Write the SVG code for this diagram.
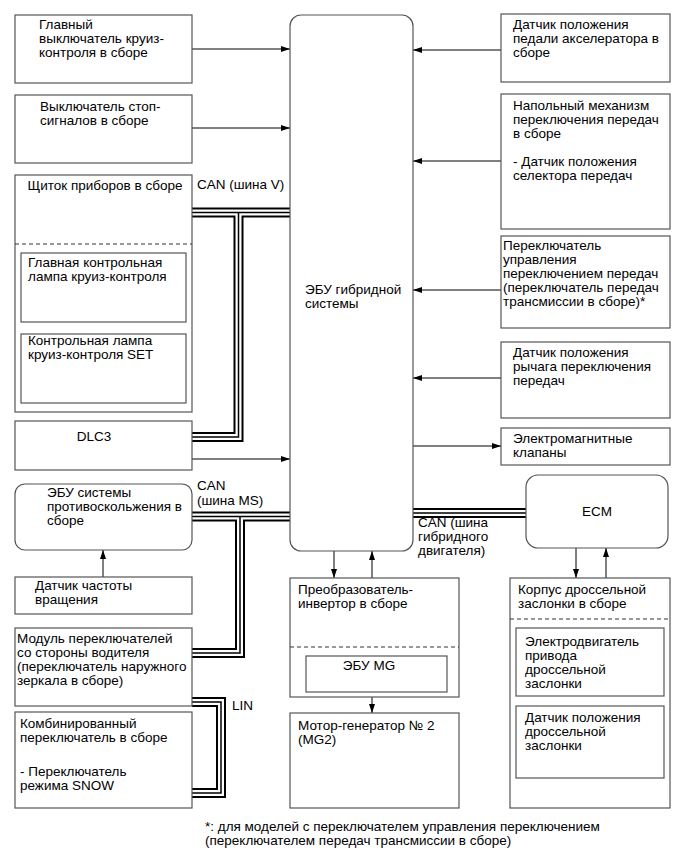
<svg xmlns="http://www.w3.org/2000/svg" width="686" height="856" viewBox="0 0 686 856">
<defs>
<style>
.b{fill:#fff;stroke:#555;stroke-width:1.2}
.d{stroke:#333;stroke-width:1;stroke-dasharray:4 3;fill:none}
.t{font-family:"Liberation Sans",Arial,sans-serif;font-size:13.5px;fill:#000}
.m{text-anchor:middle}
.a{stroke:#000;stroke-width:1;fill:none;marker-end:url(#ah)}
.bus1{stroke:#000;stroke-width:10;fill:none;stroke-linejoin:miter}
.bus2{stroke:#fff;stroke-width:6;fill:none;stroke-linejoin:miter}
.bus3{stroke:#000;stroke-width:1.5;fill:none;stroke-linejoin:miter}
</style>
<marker id="ah" viewBox="0 0 9 6" refX="9" refY="3" markerWidth="9" markerHeight="6" orient="auto" markerUnits="userSpaceOnUse"><path d="M0,0 L9,3 L0,6 z" fill="#000"/></marker>
</defs>
<rect width="686" height="856" fill="#fff"/>
<g id="connectors">
<g id="buses">
<path class="bus1" d="M192,212.5 H290 M238.5,212.5 V437 H192 M192,516.5 H290 M240,516.5 V653 H192 M413,513 H526 M192,702 H221 V793 H192"/>
<path class="bus2" d="M192,212.5 H290 M238.5,212.5 V437 H192 M192,516.5 H290 M240,516.5 V653 H192 M413,513 H526 M192,702 H221 V793 H192"/>
<path class="bus3" d="M192,212.5 H290 M238.5,212.5 V437 H192 M192,516.5 H290 M240,516.5 V653 H192 M413,513 H526 M192,702 H221 V793 H192"/>
</g>
<path class="a" d="M192,49 H290"/>
<path class="a" d="M192,128 H290"/>
<path class="a" d="M192,459 H290"/>
<path class="a" d="M103,577 V550"/>
<path class="a" d="M501,50 H413"/>
<path class="a" d="M501,161 H413"/>
<path class="a" d="M501,290 H413"/>
<path class="a" d="M501,378 H413"/>
<path class="a" d="M413,446 H501"/>
<path class="a" d="M334,551 V578"/>
<path class="a" d="M372,578 V551"/>
<path class="a" d="M372,692 V713"/>
<path class="a" d="M576,548 V578"/>
<path class="a" d="M606,578 V548"/>
<text class="t" x="197" y="189">CAN (шина V)</text>
<text class="t" x="197" y="490">CAN</text>
<text class="t" x="197" y="505">(шина MS)</text>
<text class="t" x="418" y="527">CAN (шина</text>
<text class="t" x="418" y="541">гибридного</text>
<text class="t" x="418" y="555">двигателя)</text>
<text class="t" x="232" y="710">LIN</text>
</g>
<g id="hv-ecu">
<rect class="b" x="290" y="15" width="123" height="536" rx="11"/>
<text class="t" x="305" y="294">ЭБУ гибридной</text>
<text class="t" x="305" y="308">системы</text>
</g>
<g id="cruise-main-switch">
<rect class="b" x="15" y="15" width="177" height="68"/>
<text class="t" x="39" y="29">Главный</text>
<text class="t" x="39" y="43">выключатель круиз-</text>
<text class="t" x="39" y="57">контроля в сборе</text>
</g>
<g id="stop-switch">
<rect class="b" x="15" y="95" width="177" height="68"/>
<text class="t" x="40" y="111">Выключатель стоп-</text>
<text class="t" x="40" y="125">сигналов в сборе</text>
</g>
<g id="combination-meter">
<rect class="b" x="15" y="175" width="177" height="237"/>
<text class="t m" x="105" y="190">Щиток приборов в сборе</text>
<line class="d" x1="15" y1="244" x2="192" y2="244"/>
<rect class="b" x="21" y="253" width="165" height="69"/>
<text class="t" x="28" y="267">Главная контрольная</text>
<text class="t" x="28" y="281">лампа круиз-контроля</text>
<rect class="b" x="21" y="334" width="165" height="69"/>
<text class="t" x="28" y="345">Контрольная лампа</text>
<text class="t" x="28" y="359">круиз-контроля SET</text>
</g>
<g id="dlc3">
<rect class="b" x="15" y="421" width="177" height="49"/>
<text class="t m" x="94" y="441">DLC3</text>
</g>
<g id="skid-ecu">
<rect class="b" x="15" y="484" width="177" height="66" rx="10"/>
<text class="t" x="47" y="497">ЭБУ системы</text>
<text class="t" x="47" y="511">противоскольжения в</text>
<text class="t" x="47" y="525">сборе</text>
</g>
<g id="speed-sensor">
<rect class="b" x="15" y="577" width="177" height="37"/>
<text class="t" x="35" y="590">Датчик частоты</text>
<text class="t" x="35" y="604">вращения</text>
</g>
<g id="driver-switch">
<rect class="b" x="15" y="628" width="177" height="78"/>
<text class="t" x="17" y="643">Модуль переключателей</text>
<text class="t" x="17" y="657">со стороны водителя</text>
<text class="t" x="17" y="671">(переключатель наружного</text>
<text class="t" x="17" y="685">зеркала в сборе)</text>
</g>
<g id="combination-switch">
<rect class="b" x="15" y="712" width="177" height="96"/>
<text class="t" x="20" y="728">Комбинированный</text>
<text class="t" x="20" y="742">переключатель в сборе</text>
<text class="t" x="20" y="776">- Переключатель</text>
<text class="t" x="20" y="790">режима SNOW</text>
</g>
<g id="inverter">
<rect class="b" x="290" y="578" width="169" height="119"/>
<text class="t" x="298" y="594">Преобразователь-</text>
<text class="t" x="298" y="608">инвертор в сборе</text>
<line class="d" x1="290" y1="647" x2="459" y2="647"/>
<rect class="b" x="306" y="656" width="141" height="36"/>
<text class="t m" x="369" y="670">ЭБУ MG</text>
</g>
<g id="mg2">
<rect class="b" x="290" y="713" width="169" height="95"/>
<text class="t" x="298" y="730">Мотор-генератор № 2</text>
<text class="t" x="298" y="744">(MG2)</text>
</g>
<g id="accel-sensor">
<rect class="b" x="501" y="14" width="169" height="68"/>
<text class="t" x="513" y="29">Датчик положения</text>
<text class="t" x="513" y="43">педали акселератора в</text>
<text class="t" x="513" y="57">сборе</text>
</g>
<g id="shift-lever">
<rect class="b" x="501" y="94" width="169" height="135"/>
<text class="t" x="513" y="110">Напольный механизм</text>
<text class="t" x="513" y="124">переключения передач</text>
<text class="t" x="513" y="138">в сборе</text>
<text class="t" x="513" y="166">- Датчик положения</text>
<text class="t" x="513" y="180">селектора передач</text>
</g>
<g id="paddle-switch">
<rect class="b" x="501" y="236" width="169" height="92"/>
<text class="t" x="503" y="250">Переключатель</text>
<text class="t" x="503" y="264">управления</text>
<text class="t" x="503" y="278">переключением передач</text>
<text class="t" x="503" y="292">(переключатель передач</text>
<text class="t" x="503" y="306">трансмиссии в сборе)*</text>
</g>
<g id="shift-sensor">
<rect class="b" x="501" y="342" width="169" height="76"/>
<text class="t" x="513" y="357">Датчик положения</text>
<text class="t" x="513" y="371">рычага переключения</text>
<text class="t" x="513" y="385">передач</text>
</g>
<g id="solenoids">
<rect class="b" x="501" y="428" width="169" height="37"/>
<text class="t" x="513" y="443">Электромагнитные</text>
<text class="t" x="513" y="457">клапаны</text>
</g>
<g id="ecm">
<rect class="b" x="526" y="475" width="142" height="73" rx="12"/>
<text class="t m" x="597" y="516">ECM</text>
</g>
<g id="throttle-body">
<rect class="b" x="510" y="578" width="160" height="230"/>
<text class="t" x="518" y="594">Корпус дроссельной</text>
<text class="t" x="518" y="608">заслонки в сборе</text>
<line class="d" x1="510" y1="619" x2="670" y2="619"/>
<rect class="b" x="516" y="628" width="148" height="68"/>
<text class="t" x="525" y="646">Электродвигатель</text>
<text class="t" x="525" y="660">привода</text>
<text class="t" x="525" y="674">дроссельной</text>
<text class="t" x="525" y="688">заслонки</text>
<rect class="b" x="516" y="706" width="148" height="72"/>
<text class="t" x="525" y="722">Датчик положения</text>
<text class="t" x="525" y="736">дроссельной</text>
<text class="t" x="525" y="750">заслонки</text>
</g>
<g id="footnote">
<text class="t" x="205" y="831">*: для моделей с переключателем управления переключением</text>
<text class="t" x="205" y="845">(переключателем передач трансмиссии в сборе)</text>
</g>
</svg>
